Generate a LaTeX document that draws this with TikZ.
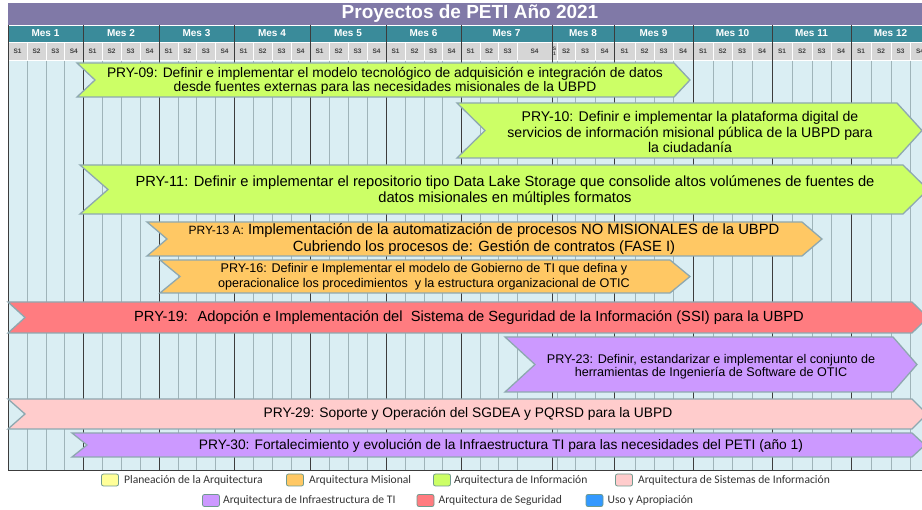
\documentclass[tikz,border=0pt]{standalone}
\usepackage{fontspec}
\setmainfont{Liberation Sans}
\newfontfamily\legendfont{Carlito}
\usetikzlibrary{positioning}

\definecolor{titlebg}{HTML}{8079A7}
\definecolor{mesbg}{HTML}{3A8B9A}
\definecolor{semgray}{HTML}{D6D6D6}
\definecolor{bodybg}{HTML}{DAEEF3}
\definecolor{weekline}{HTML}{9FB4B9}
\definecolor{monthline}{HTML}{3C3C3C}
\definecolor{barline}{HTML}{8EA8B0}
\definecolor{legline}{HTML}{6F9A8E}
\definecolor{infogreen}{HTML}{CCFF66}
\definecolor{misorange}{HTML}{FFC864}
\definecolor{segred}{HTML}{FF7C80}
\definecolor{infrapurple}{HTML}{CC99FF}
\definecolor{sispink}{HTML}{FFCCCC}
\definecolor{planyellow}{HTML}{FFFF99}
\definecolor{usoblue}{HTML}{3399FF}

\tikzset{
  bararrow/.style={draw=barline, line width=1.3pt, line join=miter},
  bartext/.style={align=center, inner sep=0pt, font=\fontsize{13.8}{15.5}\selectfont},
  smalltext/.style={bartext, font=\fontsize{12.6}{14}\selectfont},
  meslabel/.style={text=white, inner sep=0pt, font=\bfseries\fontsize{10}{12}\selectfont},
  semlabel/.style={text=black!75, inner sep=0pt, font=\bfseries\fontsize{6.5}{7}\selectfont},
  legbox/.style={draw=legline, line width=0.8pt, rounded corners=2pt, minimum width=17pt, minimum height=12pt, inner sep=0pt},
  legtext/.style={inner sep=0pt, text=black!80, font=\legendfont\fontsize{11.6}{13}\selectfont}
}

% #1 fill, #2 left, #3 tip, #4 top, #5 bottom, #6 notch, #7 point
\newcommand{\pryarrow}[7]{%
  \filldraw[bararrow, fill=#1] (#2,#4) -- (#3-#7,#4) -- (#3,{(#4+#5)/2})
    -- (#3-#7,#5) -- (#2,#5) -- (#2+#6,{(#4+#5)/2}) -- cycle;}

\begin{document}
\begin{tikzpicture}[x=1pt, y=-1pt]
  \useasboundingbox (0,0) rectangle (922,510);
  \clip (0,0) rectangle (922,510);

  % header and body
  \fill[titlebg] (8,3) rectangle (930,25);
  \fill[mesbg] (8,25) rectangle (930,42);
  \fill[semgray] (8,42) rectangle (930,60);
  \fill[bodybg] (8,61) rectangle (930,470);
  \draw[white, line width=0.8pt] (8,25) -- (930,25) (8,42) -- (930,42) (8,60.5) -- (930,60.5);

  \node[text=white, inner sep=0pt, font=\bfseries\fontsize{19}{22}\selectfont] (titulo) at (470,14) {Proyectos de PETI Año 2021};

  \foreach \x in {27,46,64.5,102,121,140,178,196.5,215,253,272,291,329,348,367,
                  405,424,442,480,498,517,557,575,595,635,654,673,713,732,752,
                  792,812,831,871,891,910}
  {
    \draw[white, line width=0.8pt] (\x,42) -- (\x,60);
    \draw[weekline, line width=0.8pt] (\x,61) -- (\x,470);
  }
  \foreach \x in {8,83,159,234,310,386,461,552,614,693,772,851}
    \draw[monthline, line width=0.9pt] (\x,25) -- (\x,470);
  \draw[monthline, line width=0.9pt] (8,470) -- (930,470);

  \foreach \l/\r/\m in {8/83/1,83/159/2,159/234/3,234/310/4,310/386/5,386/461/6,
                        461/552/7,552/614/8,614/693/9,693/772/10,772/851/11,851/930/12}
    \node[meslabel] (mes\m) at ({(\l+\r)/2},33.5) {Mes \m};

  \foreach \l/\r/\s [count=\i] in {8/27/1,27/46/2,46/64.5/3,64.5/83/4,83/102/1,102/121/2,121/140/3,140/159/4,
      159/178/1,178/196.5/2,196.5/215/3,215/234/4,234/253/1,253/272/2,272/291/3,291/310/4,
      310/329/1,329/348/2,348/367/3,367/386/4,386/405/1,405/424/2,424/442/3,442/461/4,
      461/480/1,480/498/2,498/517/3,517/552/4,557/575/2,575/595/3,595/614/4,
      614/635/1,635/654/2,654/673/3,673/693/4,693/713/1,713/732/2,732/752/3,752/772/4,
      772/792/1,792/812/2,812/831/3,831/851/4,851/871/1,871/891/2,891/910/3,910/930/4}
    \node[semlabel] (sem\i) at ({(\l+\r)/2},51) {S\s};
  \node[semlabel, align=center, font=\bfseries\fontsize{5}{5}\selectfont] (semcorto) at (554.5,51) {S\\1};

  % projects
  \pryarrow{infogreen}{77}{690}{63}{97}{18}{16}
  \node[bartext, font=\fontsize{13.8}{14.5}\selectfont] (pry09) at (385,81) {PRY-09: Definir e implementar el modelo tecnológico de adquisición e integración de datos\\desde fuentes externas para las necesidades misionales de la UBPD};

  \pryarrow{infogreen}{457}{922}{103}{158}{28}{25}
  \node[bartext, font=\fontsize{14.1}{15.5}\selectfont] (pry10) at (690,132) {PRY-10: Definir e implementar la plataforma digital de\\servicios de información misional pública de la UBPD para\\la ciudadanía};

  \pryarrow{infogreen}{80}{928}{165}{214}{28}{25}
  \node[bartext, font=\fontsize{14.7}{16.5}\selectfont] (pry11) at (505,190.5) {PRY-11: Definir e implementar el repositorio tipo Data Lake Storage que consolide altos volúmenes de fuentes de\\datos misionales en múltiples formatos};

  \pryarrow{misorange}{147}{822}{222}{256}{20}{20}
  \node[bartext, font=\fontsize{14.8}{17}\selectfont] (pry13) at (484,239.5) {{\fontsize{12}{13}\selectfont PRY-13 A:} Implementación de la automatización de procesos NO MISIONALES de la UBPD\\Cubriendo los procesos de: Gestión de contratos (FASE I)};

  \pryarrow{misorange}{160}{690}{260}{293}{20}{20}
  \node[smalltext, font=\fontsize{12.6}{15}\selectfont] (pry16) at (424,276.5) {PRY-16: Definir e Implementar el modelo de Gobierno de TI que defina y\\operacionalice los procedimientos \ y la estructura organizacional de OTIC};

  \pryarrow{segred}{8}{928}{302}{333}{17}{16}
  \node[bartext, font=\fontsize{14.7}{16}\selectfont] (pry19) at (469,317.5) {PRY-19: \ Adopción e Implementación del \ Sistema de Seguridad de la Información (SSI) para la UBPD};

  \pryarrow{infrapurple}{505}{917}{337}{392}{30}{24}
  \node[smalltext, font=\fontsize{12.6}{13.5}\selectfont] (pry23) at (711,366.5) {PRY-23: Definir, estandarizar e implementar el conjunto de\\herramientas de Ingeniería de Software de OTIC};

  \pryarrow{sispink}{8}{927}{399}{429}{17}{15}
  \node[bartext, font=\fontsize{13.8}{15}\selectfont] (pry29) at (468,414) {PRY-29: Soporte y Operación del SGDEA y PQRSD para la UBPD};

  \pryarrow{infrapurple}{72}{925}{433}{457}{15}{13}
  \node[bartext, font=\fontsize{13.8}{15}\selectfont] (pry30) at (501,445.5) {PRY-30: Fortalecimiento y evolución de la Infraestructura TI para las necesidades del PETI (año 1)};

  % legend
  \node[legbox, fill=planyellow] (lplan) at (110,480) {};
  \node[legtext, right=5pt of lplan] (tplan) {Planeación de la Arquitectura};
  \node[legbox, fill=misorange] (lmis) at (295,480) {};
  \node[legtext, right=5pt of lmis] (tmis) {Arquitectura Misional};
  \node[legbox, fill=infogreen] (linfo) at (442,480) {};
  \node[legtext, right=3pt of linfo] (tinfo) {Arquitectura de Información};
  \node[legbox, fill=sispink] (lsis) at (624,480) {};
  \node[legtext, right=5pt of lsis] (tsis) {Arquitectura de Sistemas de Información};
  \node[legbox, fill=infrapurple] (linfra) at (211,500.5) {};
  \node[legtext, right=3pt of linfra] (tinfra) {Arquitectura de Infraestructura de TI};
  \node[legbox, fill=segred] (lseg) at (425.5,500.5) {};
  \node[legtext, right=4pt of lseg] (tseg) {Arquitectura de Seguridad};
  \node[legbox, fill=usoblue] (luso) at (594.5,500.5) {};
  \node[legtext, right=4pt of luso] (tuso) {Uso y Apropiación};
\end{tikzpicture}
\end{document}
